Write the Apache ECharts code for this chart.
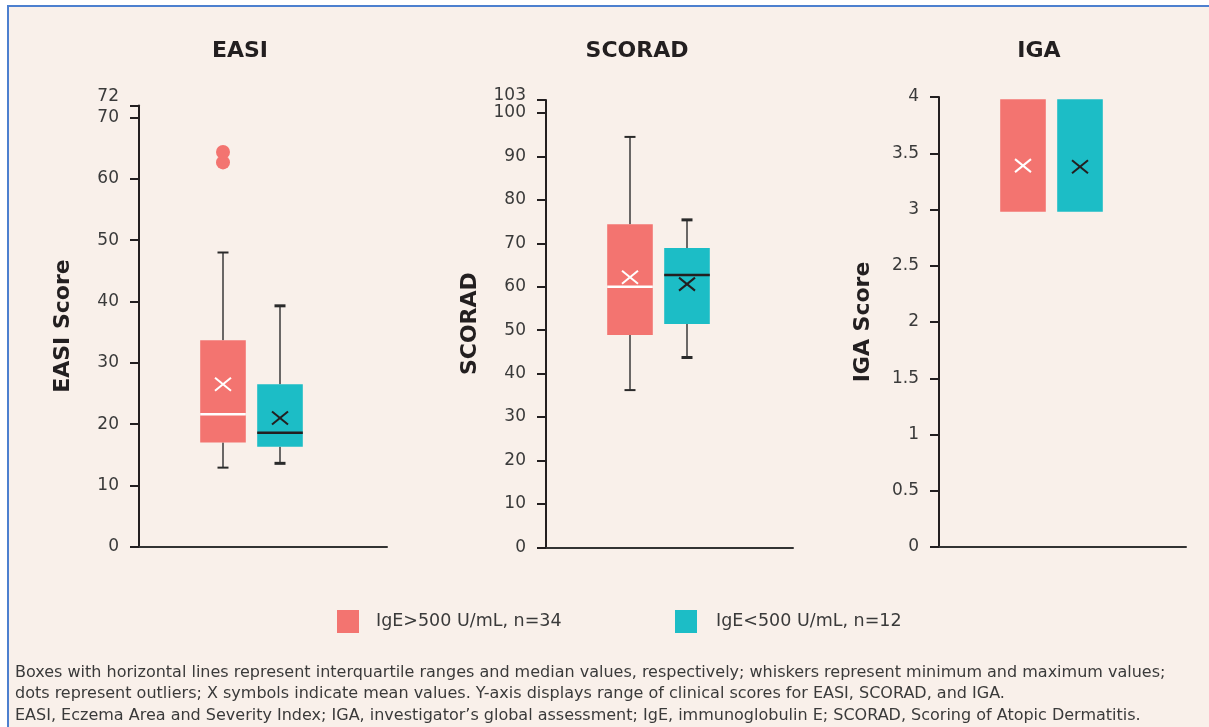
<!DOCTYPE html>
<html>
<head>
<meta charset="utf-8">
<script src="https://cdn.jsdelivr.net/npm/echarts@6/dist/echarts.min.js"></script>
<style>
  html, body { margin: 0; padding: 0; background: #ffffff; width: 1209px; height: 727px; overflow: hidden; }
  #panel { position: absolute; left: 7px; top: 5px; width: 1220px; height: 740px; background: #F9F0EA; border-left: 2px solid #4D80CF; border-top: 2px solid #4D80CF; }
  #chart { position: absolute; left: 0; top: 0; width: 1209px; height: 727px; }
</style>
</head>
<body>
<div id="panel"></div>
<div id="chart"></div>
<script>
// ---- data ----
const groups = ['IgE>500 U/mL, n=34', 'IgE<500 U/mL, n=12'];
const panelTitles = ['EASI', 'SCORAD', 'IGA'];
const axisNames = ['EASI Score', 'SCORAD', 'IGA Score'];
// [min, Q1, median, Q3, max]
const easiHigh = [12.9, 17.0, 21.6, 33.7, 48.0];
const easiLow = [13.6, 16.3, 18.6, 26.5, 39.3];
const easiMeans = [26.5, 21.0];
const easiOutliersHigh = [62.7, 64.4];
const scoradHigh = [36.2, 48.9, 60.0, 74.4, 94.5];
const scoradLow = [43.7, 51.4, 62.7, 68.9, 75.4];
const scoradMeans = [62.2, 60.6];
const igaHigh = [2.98, 2.98, null, 3.98, 3.98];
const igaLow = [2.98, 2.98, null, 3.98, 3.98];
const igaMeans = [3.39, 3.38];
// tick labels (regular ticks, plus the axis-top label)
const easiTicks = [0, 10, 20, 30, 40, 50, 60, 70];
const easiTopTick = [72];
const scoradTicks = [0, 10, 20, 30, 40, 50, 60, 70, 80, 90, 100];
const scoradTopTick = [103];
const igaTicks = [0, 0.5, 1, 1.5, 2, 2.5, 3, 3.5, 4];
const igaTopTick = [];
const footnote = [
  'Boxes with horizontal lines represent interquartile ranges and median values, respectively; whiskers represent minimum and maximum values;',
  'dots represent outliers; X symbols indicate mean values. Y-axis displays range of clinical scores for EASI, SCORAD, and IGA.',
  'EASI, Eczema Area and Severity Index; IGA, investigator\u2019s global assessment; IgE, immunoglobulin E; SCORAD, Scoring of Atopic Dermatitis.'
];

// ---- styles / layout ----
const FONT = 'DejaVu Sans';
const RED = '#F37470', TEAL = '#1CBDC6', INK = '#231F20', LABEL = '#3A3A3A';
const panels = [
  { frameLeft: 139, frameWidth: 248, dataLeft: 194.5, top: 105.4, bottom: 180.3, max: 72, ticks: easiTicks, topTick: easiTopTick, topLineHeight: 17, titleX: 240,
    high: easiHigh, low: easiLow, means: easiMeans },
  { frameLeft: 546, frameWidth: 247, dataLeft: 601.5, top: 100, bottom: 179.7, max: 103, ticks: scoradTicks, topTick: scoradTopTick, topLineHeight: 9, titleX: 637,
    high: scoradHigh, low: scoradLow, means: scoradMeans },
  { frameLeft: 939, frameWidth: 247, dataLeft: 994.5, top: 97, bottom: 180, max: 4, ticks: igaTicks, topTick: igaTopTick, topLineHeight: 17, titleX: 1039,
    high: igaHigh, low: igaLow, means: igaMeans }
];

function makeRender(accent, capWidth) {
  return function (params, api) {
    const cat = api.value(0);
    const vMin = api.value(1), vQ1 = api.value(2), vMed = api.value(3), vQ3 = api.value(4), vMax = api.value(5), vMean = api.value(6);
    const pMin = api.coord([cat, vMin]);
    const pQ1 = api.coord([cat, vQ1]);
    const pQ3 = api.coord([cat, vQ3]);
    const pMax = api.coord([cat, vMax]);
    const pMean = api.coord([cat, vMean]);
    const x = pQ1[0];
    const bw = api.size([1, 0])[0] * 0.8;
    const children = [];
    const ws = { stroke: '#3A3A3A', lineWidth: 1.5 };
    const cs = { stroke: '#2A2A2A', lineWidth: capWidth };
    if (vMax > vQ3) {
      children.push({ type: 'line', shape: { x1: x, y1: pQ3[1], x2: x, y2: pMax[1] }, style: ws });
      children.push({ type: 'line', shape: { x1: x - 5.5, y1: pMax[1], x2: x + 5.5, y2: pMax[1] }, style: cs });
    }
    if (vMin < vQ1) {
      children.push({ type: 'line', shape: { x1: x, y1: pQ1[1], x2: x, y2: pMin[1] }, style: ws });
      children.push({ type: 'line', shape: { x1: x - 5.5, y1: pMin[1], x2: x + 5.5, y2: pMin[1] }, style: cs });
    }
    children.push({ type: 'rect', shape: { x: x - bw / 2, y: pQ3[1], width: bw, height: pQ1[1] - pQ3[1] },
      style: { fill: api.visual('color') } });
    if (vMed != null && !isNaN(vMed)) {
      const pMed = api.coord([cat, vMed]);
      children.push({ type: 'line', shape: { x1: x - bw / 2, y1: pMed[1], x2: x + bw / 2, y2: pMed[1] },
        style: { stroke: accent, lineWidth: 2.5 } });
    }
    const mx = pMean[0], my = pMean[1];
    const xs = { stroke: accent, lineWidth: 2 };
    children.push({ type: 'line', shape: { x1: mx - 8, y1: my - 6.5, x2: mx + 8, y2: my + 6.5 }, style: xs });
    children.push({ type: 'line', shape: { x1: mx - 8, y1: my + 6.5, x2: mx + 8, y2: my - 6.5 }, style: xs });
    return { type: 'group', children: children };
  };
}

const labelStyle = { fontFamily: FONT, fontSize: 17, color: LABEL };
const grid = [], xAxis = [], yAxis = [], series = [], title = [], extraY = [];
panels.forEach(function (p, i) {
  grid.push({ left: p.frameLeft, width: p.frameWidth, top: p.top, bottom: p.bottom });
  grid.push({ left: p.dataLeft, width: 114, top: p.top, bottom: p.bottom });
  const fg = 2 * i, dg = 2 * i + 1;
  xAxis.push({ gridIndex: fg, type: 'category', data: [''], axisLine: { lineStyle: { color: '#333333', width: 2 } },
    axisTick: { show: false }, axisLabel: { show: false } });
  xAxis.push({ gridIndex: dg, type: 'category', data: groups, show: false });
  yAxis.push({ gridIndex: fg, type: 'value', position: 'left', min: 0, max: p.max,
    name: axisNames[i], nameLocation: 'middle', nameGap: 65, nameRotate: 90,
    nameTextStyle: { fontFamily: FONT, fontWeight: 'bold', fontSize: 22, color: INK },
    axisLine: { show: true, lineStyle: { color: INK, width: 2 } },
    axisTick: { show: true, length: 9, customValues: p.ticks, lineStyle: { color: INK, width: 2 } },
    axisLabel: Object.assign({ customValues: p.ticks, showMaxLabel: true, showMinLabel: true, margin: 20 }, labelStyle),
    splitLine: { show: false } });
  yAxis.push({ gridIndex: dg, type: 'value', min: 0, max: p.max, show: false });
  if (p.topTick.length) {
    extraY.push({ gridIndex: fg, type: 'value', position: 'left', min: 0, max: p.max,
      axisLine: { show: false },
      axisTick: { show: true, length: 9, customValues: p.topTick, lineStyle: { color: INK, width: 2 } },
      axisLabel: Object.assign({ customValues: p.topTick, showMaxLabel: true, margin: 20,
        verticalAlign: 'bottom', lineHeight: p.topLineHeight }, labelStyle),
      splitLine: { show: false } });
  }
  title.push({ text: panelTitles[i], left: p.titleX, top: 40, textAlign: 'center', padding: 0,
    textStyle: { fontFamily: FONT, fontWeight: 'bold', fontSize: 22, color: INK } });
  series.push({ type: 'custom', name: groups[0], xAxisIndex: dg, yAxisIndex: dg,
    itemStyle: { color: RED }, renderItem: makeRender('#FFFFFF', 2),
    encode: { x: 0, y: [1, 2, 3, 4, 5, 6] },
    data: [[0].concat(p.high, [p.means[0]])] });
  series.push({ type: 'custom', name: groups[1], xAxisIndex: dg, yAxisIndex: dg,
    itemStyle: { color: TEAL }, renderItem: makeRender(INK, 3),
    encode: { x: 0, y: [1, 2, 3, 4, 5, 6] },
    data: [[1].concat(p.low, [p.means[1]])] });
});
extraY.forEach(function (a) { yAxis.push(a); });
series.push({ type: 'scatter', name: groups[0], xAxisIndex: 1, yAxisIndex: 1, symbol: 'circle', symbolSize: 14,
  itemStyle: { color: RED, opacity: 1 },
  data: easiOutliersHigh.map(function (v) { return [0, v]; }) });

function legendFor(name, left, gap) {
  return { orient: 'horizontal', icon: 'rect', itemWidth: 22, itemHeight: 23, selectedMode: false,
    padding: 0, left: left, top: 610, data: [name],
    itemStyle: { borderWidth: 0 },
    textStyle: { fontFamily: FONT, fontSize: 17.5, color: LABEL, padding: [0, 0, 0, gap] } };
}

const option = {
  backgroundColor: 'transparent',
  animation: false,
  title: title,
  legend: [legendFor(groups[0], 337, 12), legendFor(groups[1], 675, 14)],
  grid: grid,
  xAxis: xAxis,
  yAxis: yAxis,
  series: series,
  graphic: [{ type: 'text', left: 15, top: 662,
    style: { text: footnote.join('\n'), fontFamily: FONT, fontSize: 16, lineHeight: 21.5, fill: LABEL } }]
};

const chart = echarts.init(document.getElementById('chart'), null, { renderer: 'canvas' });
chart.setOption(option);
</script>
</body>
</html>
